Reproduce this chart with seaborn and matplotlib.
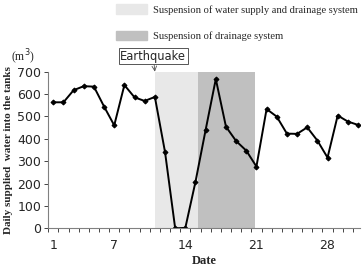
import matplotlib
matplotlib.use("Agg")
import matplotlib.pyplot as plt
import matplotlib.patches as mpatches
import seaborn as sns
import pandas as pd

days = list(range(1, 32))
supplied = [563, 563, 617, 635, 633, 544, 460, 640, 585, 569, 587, 341, 0, 2, 208,
            440, 667, 454, 390, 347, 276, 533, 499, 423, 422, 451, 392, 316, 504, 477, 462]
tick_days = [1, 7, 14, 21, 28]
water_drain_span = (11.0, 15.2)
drain_span = (15.2, 20.85)
earthquake_day = 11

df = pd.DataFrame({"day": days, "supplied": supplied})

sns.set_style("white")
serif = ["Liberation Serif", "DejaVu Serif"]

fig = plt.figure(figsize=(3.62, 2.66), dpi=100)
ax = fig.add_axes([0.1326, 0.1417, 0.862, 0.589])

ax.axvspan(*water_drain_span, color="#e8e8e8", lw=0, zorder=0)
ax.axvspan(*drain_span, color="#c0c0c0", lw=0, zorder=0)

sns.lineplot(data=df, x="day", y="supplied", ax=ax, color="black", lw=1.4,
             marker="D", markersize=2.5, markeredgecolor="black")

ax.set_xlim(0.48, 31.2)
ax.set_ylim(0, 700)
ax.set_yticks(range(0, 701, 100))
ax.set_xticks(tick_days)
ax.set_xticks([d + 0.5 for d in range(0, 31)], minor=True)
ax.tick_params(axis="x", which="major", length=0, pad=8, labelsize=9)
ax.tick_params(axis="x", which="minor", length=3, width=0.6, direction="out", bottom=True)
ax.tick_params(axis="y", length=3, width=0.6, left=True, labelsize=9, pad=2)

for s in ["top", "right"]:
    ax.spines[s].set_visible(False)
for s in ["left", "bottom"]:
    ax.spines[s].set_color("#808080")
    ax.spines[s].set_linewidth(0.8)

ax.set_xlabel("Date", family=serif, fontweight="bold", fontsize=9, labelpad=2)
ax.set_ylabel("Daily supplied  water into the tanks", family=serif,
              fontweight="bold", fontsize=8, labelpad=3)

fig.text(0.03, 0.785, "(m$^3$)", family=serif, fontsize=8.5, va="center")

# legend at top
handles = [mpatches.Patch(color="#e8e8e8", label="Suspension of water supply and drainage system"),
           mpatches.Patch(color="#c0c0c0", label="Suspension of drainage system")]
fig.legend(handles=handles, loc="upper left", bbox_to_anchor=(0.295, 1.02),
           frameon=False, prop={"family": serif, "size": 7.6},
           handlelength=2.9, handleheight=1.0, handletextpad=0.6, labelspacing=1.55)

# earthquake marker
ax.annotate("Earthquake", xy=(earthquake_day, 700), xycoords="data",
            xytext=(earthquake_day - 0.15, 740), textcoords="data",
            ha="center", va="bottom", fontsize=8.3, annotation_clip=False,
            bbox=dict(boxstyle="square,pad=0.12", fc="white", ec="#555555", lw=0.7),
            arrowprops=dict(arrowstyle="->", color="#555555", lw=0.6, shrinkA=0, shrinkB=0))

fig.savefig("out.png", dpi=100)
